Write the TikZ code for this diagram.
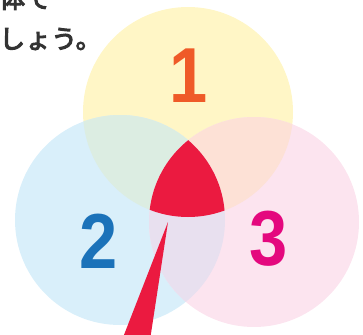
\documentclass[tikz,border=0pt]{standalone}
\usepackage{fontspec}
\setsansfont{Liberation Sans}
\newfontfamily\jpfont{Noto Sans CJK JP}[FakeBold=4]
\usetikzlibrary{positioning}
\definecolor{ringone}{HTML}{FFF6C6}
\definecolor{ringtwo}{HTML}{D9EFFA}
\definecolor{ringthree}{HTML}{FCE4EF}
\definecolor{ringot}{HTML}{DCEDE2}
\definecolor{ringoh}{HTML}{FDE1D6}
\definecolor{ringth}{HTML}{E8E0EF}
\definecolor{numone}{HTML}{EF5A28}
\definecolor{numtwo}{HTML}{1B72B9}
\definecolor{numthree}{HTML}{E4087E}
\definecolor{hit}{HTML}{EB1A40}

\begin{document}
\begin{tikzpicture}[x=1pt,y=-1pt]
	\tikzset{ring/.style={circle, minimum size=210pt, inner sep=0pt},
	         digit/.style={font=\sffamily\bfseries\fontsize{78}{78}\selectfont, xscale=0.88},
	         jptext/.style={font=\jpfont\fontsize{26}{26}\selectfont, text=black!80,
	                        anchor=west, inner sep=0pt}}
	\useasboundingbox (0,0) rectangle (363,334);
	\clip (0,0) rectangle (363,334);
	% the three circles
	\node[ring, fill=ringone] (c1) at (188,112) {};
	\node[ring, fill=ringtwo] (c2) at (120,220) {};
	\node[ring, fill=ringthree] (c3) at (254,222) {};
	% overlaps of two
	\begin{scope}
		\clip (188,112) circle (105);
		\fill[ringot] (120,220) circle (105);
	\end{scope}
	\begin{scope}
		\clip (188,112) circle (105);
		\fill[ringoh] (254,222) circle (105);
	\end{scope}
	\begin{scope}
		\clip (120,220) circle (105);
		\fill[ringth] (254,222) circle (105);
	\end{scope}
	% common part
	\begin{scope}
		\clip (188,112) circle (105);
		\clip (120,220) circle (105);
		\fill[hit] (254,222) circle (105);
	\end{scope}
	% numbers
	\node[digit, text=numone] (n1) at (189,76) {1};
	\node[digit, text=numtwo] (n2) at (99,241) {2};
	\node[digit, text=numthree] (n3) at (269,239) {3};
	% pointer
	\coordinate (tip) at (168,222);
	\fill[hit] (tip) -- (122,340) -- (150,340) -- cycle;
	% text
	\node[jptext] (line2) at (-1,39) {しょう。};
	\node[jptext] (line1) at (-1,-2) {体で};
\end{tikzpicture}
\end{document}
